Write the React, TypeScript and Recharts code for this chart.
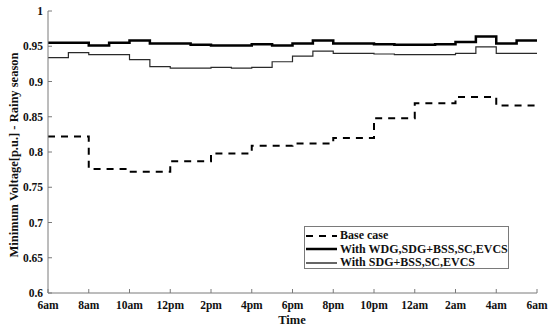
import React from 'react';
import { LineChart, Line, XAxis, YAxis } from 'recharts';

// hour offsets from 6am, one step per hour (last point repeats to close the step)
const hours = [0, 1, 2, 3, 4, 5, 6, 7, 8, 9, 10, 11, 12, 13, 14, 15, 16, 17, 18, 19, 20, 21, 22, 23, 24];
const timeTicks = [0, 2, 4, 6, 8, 10, 12, 14, 16, 18, 20, 22, 24];
const timeLabels = ['6am', '8am', '10am', '12pm', '2pm', '4pm', '6pm', '8pm', '10pm', '12am', '2am', '4am', '6am'];
const voltTicks = [0.6, 0.65, 0.7, 0.75, 0.8, 0.85, 0.9, 0.95, 1];
const voltLabels = ['0.6', '0.65', '0.7', '0.75', '0.8', '0.85', '0.9', '0.95', '1'];

const baseCase = [
  0.822, 0.822, 0.776, 0.776, 0.772, 0.772, 0.787, 0.787, 0.798, 0.798, 0.809, 0.809,
  0.812, 0.812, 0.82, 0.82, 0.848, 0.848, 0.869, 0.869, 0.878, 0.878, 0.866, 0.866, 0.866,
];
const withWdg = [
  0.955, 0.955, 0.951, 0.955, 0.958, 0.954, 0.954, 0.952, 0.951, 0.951, 0.953, 0.951,
  0.954, 0.958, 0.954, 0.954, 0.953, 0.952, 0.952, 0.953, 0.956, 0.964, 0.954, 0.958, 0.958,
];
const withSdg = [
  0.934, 0.941, 0.938, 0.938, 0.931, 0.921, 0.919, 0.919, 0.92, 0.919, 0.92, 0.928,
  0.936, 0.943, 0.94, 0.94, 0.939, 0.938, 0.938, 0.938, 0.94, 0.949, 0.94, 0.94, 0.94,
];

const data = hours.map((h, i) => ({ h, base: baseCase[i], wdg: withWdg[i], sdg: withSdg[i] }));

const FONT = "'Liberation Serif', 'Times New Roman', Times, serif";
const AXIS = '#7a7a7a';
const tickStyle = { fontSize: 11.5, fontWeight: 700, fill: '#111', fontFamily: FONT };
const titleStyle = { fontSize: 12.5, fontWeight: 700, fill: '#111', fontFamily: FONT };

const legendItems = [
  { label: 'Base case', width: 2, dash: '7 6' },
  { label: 'With WDG,SDG+BSS,SC,EVCS', width: 2.5, dash: undefined },
  { label: 'With SDG+BSS,SC,EVCS', width: 1.2, dash: undefined },
];

export default function App() {
  return (
    <div style={{ position: 'absolute', left: 0, top: 0, width: 550, height: 330, background: '#fff', fontFamily: FONT }}>
      <LineChart width={550} height={330} data={data} margin={{ top: 11, right: 13, bottom: 7, left: 8 }}
        style={{ fontFamily: FONT }}>
        <XAxis
          dataKey="h"
          type="number"
          domain={[0, 24]}
          ticks={timeTicks}
          interval={0}
          tickFormatter={(v: number) => timeLabels[timeTicks.indexOf(v)]}
          tick={tickStyle}
          stroke={AXIS}
          tickSize={-4}
          tickMargin={12}
          height={30}
          label={{
            content: () => (
              <text x={292} y={319.5} textAnchor="middle" dominantBaseline="central" style={titleStyle}>Time</text>
            ),
          }}
        />
        <XAxis xAxisId="top" dataKey="h" type="number" domain={[0, 24]} ticks={timeTicks} interval={0}
          orientation="top" tick={false} stroke={AXIS} tickSize={-4} height={0} />
        <YAxis
          type="number"
          domain={[0.6, 1]}
          ticks={voltTicks}
          interval={0}
          tickFormatter={(v: number) => voltLabels[voltTicks.indexOf(v)]}
          tick={tickStyle}
          stroke={AXIS}
          tickSize={-4}
          tickMargin={9}
          width={40}
          label={{
            content: () => (
              <text x={14} y={155} transform="rotate(-90 14 155)" textAnchor="middle" dominantBaseline="central"
                style={titleStyle}>
                Minimum Voltage[p.u.] - Rainy season
              </text>
            ),
          }}
        />
        <YAxis yAxisId="right" type="number" domain={[0.6, 1]} ticks={voltTicks} interval={0}
          orientation="right" tick={false} stroke={AXIS} tickSize={-4} width={0} />
        <Line type="stepAfter" dataKey="base" stroke="#000" strokeWidth={2} strokeDasharray="7 6" dot={false} isAnimationActive={false} />
        <Line type="stepAfter" dataKey="wdg" stroke="#000" strokeWidth={2.5} dot={false} isAnimationActive={false} />
        <Line type="stepAfter" dataKey="sdg" stroke="#2a2a2a" strokeWidth={1.2} dot={false} isAnimationActive={false} />
      </LineChart>

      {/* legend box */}
      <div style={{
        position: 'absolute', left: 304, top: 226, width: 205, height: 43, boxSizing: 'border-box',
        border: `1px solid ${AXIS}`, background: '#fff', padding: '2px 0 0 1px', fontFamily: FONT,
      }}>
        {legendItems.map((it) => (
          <div key={it.label} style={{ display: 'flex', alignItems: 'center', height: 13.5 }}>
            <svg width={31} height={6} style={{ marginRight: 3 }}>
              <line x1={0} y1={3} x2={31} y2={3} stroke="#000" strokeWidth={it.width} strokeDasharray={it.dash} />
            </svg>
            <span style={{ fontSize: 12, fontWeight: 700, color: '#111', whiteSpace: 'nowrap' }}>{it.label}</span>
          </div>
        ))}
      </div>
    </div>
  );
}
